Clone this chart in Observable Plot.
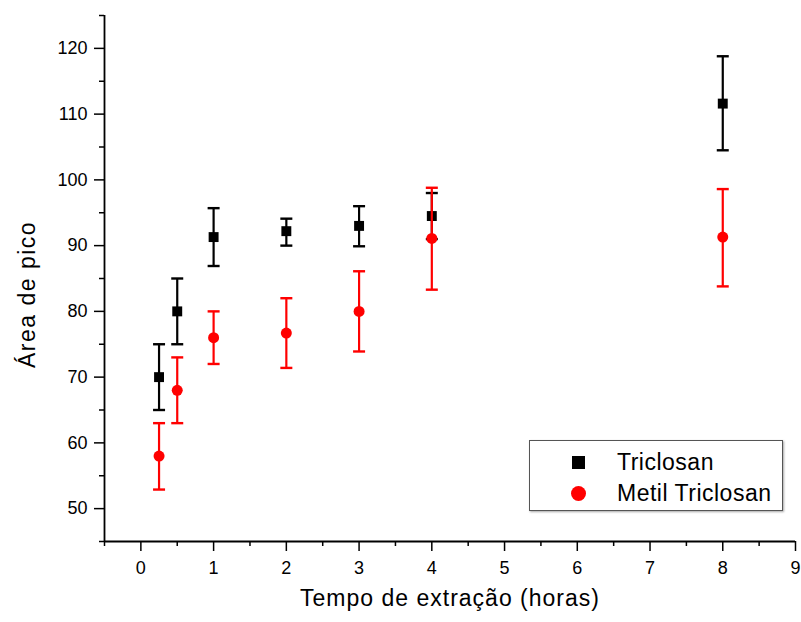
<!DOCTYPE html>
<html>
<head>
<meta charset="utf-8">
<script src="https://cdn.jsdelivr.net/npm/d3@7"></script>
<script src="https://cdn.jsdelivr.net/npm/@observablehq/plot@0.6"></script>
<style>
  body { margin: 0; background: #fff; }
  #wrap { position: relative; width: 801px; height: 622px; font-family: "Liberation Sans", Arial, sans-serif; }
  #legend { position: absolute; left: 529px; top: 440px; width: 254px; height: 71px; border: 1px solid #555; box-shadow: 1px 1px 2px rgba(0,0,0,0.35); background: #fff; box-sizing: border-box; }
  .sw { position: absolute; }
  .lab { position: absolute; left: 87px; white-space: nowrap; font-size: 23px; letter-spacing: 0.5px; line-height: 24px; color: #000; }
</style>
</head>
<body>
<div id="wrap">
  <div id="chart"></div>
  <div id="legend"></div>
</div>
<script>
// Data
const times = [0.25, 0.5, 1, 2, 3, 4, 8];
const triclosan = [70, 80, 91.3, 92.2, 93, 94.5, 111.6];
const triclosanLow = [65, 75, 86.9, 90, 89.9, 91, 104.5];
const triclosanHigh = [75, 85, 95.7, 94.1, 96, 98, 118.8];
const metil = [58, 68, 76, 76.7, 80, 91.1, 91.3];
const metilLow = [52.9, 63, 72, 71.4, 73.9, 83.3, 83.8];
const metilHigh = [63, 73, 80, 82, 86.1, 98.8, 98.6];
const seriesNames = ["Triclosan", "Metil Triclosan"];
const seriesColors = ["#000000", "#ff0000"];
const xMajorTicks = [0, 1, 2, 3, 4, 5, 6, 7, 8, 9];
const xMinorTicks = [-0.5, 0.5, 1.5, 2.5, 3.5, 4.5, 5.5, 6.5, 7.5, 8.5];
const yMajorTicks = [50, 60, 70, 80, 90, 100, 110, 120];
const yMinorTicks = [45, 55, 65, 75, 85, 95, 105, 115, 125];
const xTitle = "Tempo de extração (horas)";
const yTitle = "Área de pico";

const tri = times.map((t, i) => ({t, v: triclosan[i], lo: triclosanLow[i], hi: triclosanHigh[i]}));
const met = times.map((t, i) => ({t, v: metil[i], lo: metilLow[i], hi: metilHigh[i]}));

const capSymbol = {
  draw(ctx, size) {
    const h = Math.sqrt(size / Math.PI);
    ctx.moveTo(-h, 0);
    ctx.lineTo(h, 0);
  }
};

function seriesMarks(data, color, symbol, r) {
  return [
    Plot.ruleX(data, {x: "t", y1: "lo", y2: "hi", stroke: color, strokeWidth: 2.2}),
    Plot.dot(data, {x: "t", y: "lo", symbol: capSymbol, r: 6, stroke: color, strokeWidth: 2.4, fill: "none"}),
    Plot.dot(data, {x: "t", y: "hi", symbol: capSymbol, r: 6, stroke: color, strokeWidth: 2.4, fill: "none"}),
    Plot.dot(data, {x: "t", y: "v", symbol, r, fill: color, stroke: "none"})
  ];
}

const chart = Plot.plot({
  width: 801,
  height: 622,
  marginLeft: 104,
  marginRight: 6,
  marginTop: 15,
  marginBottom: 81,
  style: {fontFamily: "'Liberation Sans', Arial, sans-serif", fontSize: "18px", color: "#000", background: "#fff"},
  x: {domain: [-0.5, 9], axis: null},
  y: {domain: [45, 125], axis: null},
  marks: [
    Plot.axisX({ticks: xMajorTicks, tickSize: 10, tickPadding: 10, label: null, stroke: "#000", strokeWidth: 1.5, tickFormat: d => String(d)}),
    Plot.axisX({ticks: xMinorTicks, tickSize: 5, label: null, stroke: "#000", strokeWidth: 1.5, tickFormat: () => ""}),
    Plot.axisY({ticks: yMajorTicks, tickSize: 10, tickPadding: 7, label: null, stroke: "#000", strokeWidth: 1.5, tickFormat: d => String(d)}),
    Plot.axisY({ticks: yMinorTicks, tickSize: 5, label: null, stroke: "#000", strokeWidth: 1.5, tickFormat: () => ""}),
    Plot.ruleY([45], {stroke: "#000", strokeWidth: 1.8}),
    Plot.ruleX([-0.5], {stroke: "#000", strokeWidth: 1.8}),
    ...seriesMarks(tri, seriesColors[0], "square", 5.6),
    ...seriesMarks(met, seriesColors[1], "circle", 5.5),
    Plot.text([xTitle], {frameAnchor: "bottom", dy: 64, fontSize: 23, textAnchor: "middle", text: d => d}),
    Plot.text([yTitle], {frameAnchor: "left", rotate: -90, textAnchor: "middle", dx: -77, dy: 16, fontSize: 23, text: d => d})
  ]
});
d3.select(chart).selectAll("text").each(function() {
  const t = this.textContent;
  if (t === xTitle) this.style.letterSpacing = "1px";
  if (t === yTitle) this.style.letterSpacing = "1.5px";
});
document.getElementById("chart").appendChild(chart);

// Legend
const legend = document.getElementById("legend");
const rowsY = [21, 52];
seriesNames.forEach((name, i) => {
  const sw = document.createElement("div");
  sw.className = "sw";
  const size = i === 0 ? 13 : 15;
  sw.style.width = size + "px";
  sw.style.height = size + "px";
  sw.style.left = (48 - size / 2) + "px";
  sw.style.top = (rowsY[i] - size / 2) + "px";
  sw.style.background = seriesColors[i];
  if (i === 1) sw.style.borderRadius = "50%";
  legend.appendChild(sw);
  const lab = document.createElement("div");
  lab.className = "lab";
  lab.textContent = name;
  lab.style.top = (rowsY[i] - 12) + "px";
  legend.appendChild(lab);
});
</script>
</body>
</html>
